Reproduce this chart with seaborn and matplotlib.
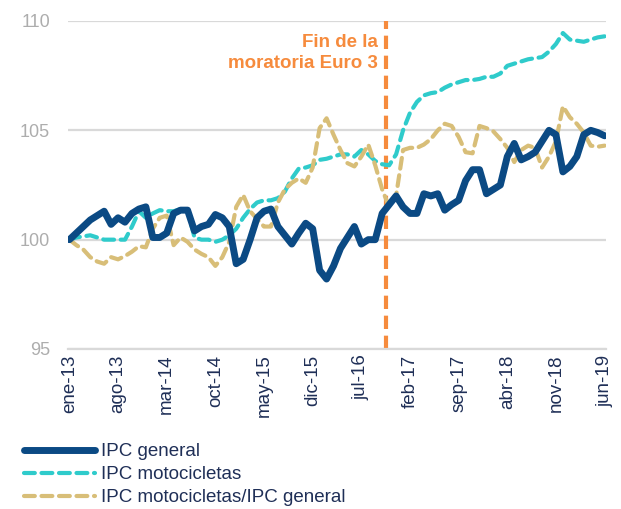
import numpy as np
import pandas as pd
import matplotlib
matplotlib.use("Agg")
import matplotlib.pyplot as plt
import seaborn as sns

months = ["ene", "feb", "mar", "abr", "may", "jun", "jul", "ago", "sep", "oct", "nov", "dic"]
dates = [f"{months[m]}-{str(y)[2:]}" for y in range(2013, 2020) for m in range(12)][:78]

ipc_general = [
    100.0, 100.3, 100.6, 100.9, 101.1, 101.3, 100.7, 101.0, 100.8, 101.2,
    101.4, 101.5, 100.1, 100.1, 100.3, 101.2, 101.35, 101.35, 100.4, 100.6,
    100.7, 101.15, 101.0, 100.6, 98.9, 99.1, 100.0, 101.0, 101.3, 101.4,
    100.6, 100.2, 99.8, 100.3, 100.75, 100.5, 98.6, 98.2, 98.8, 99.6,
    100.1, 100.6, 99.8, 100.0, 100.0, 101.2, 101.6, 102.0, 101.5, 101.2,
    101.2, 102.1, 102.0, 102.1, 101.35, 101.6, 101.8, 102.7, 103.2, 103.2,
    102.1, 102.3, 102.5, 103.8, 104.4, 103.65, 103.8, 104.0, 104.5, 105.0,
    104.8, 103.1, 103.35, 103.8, 104.8, 105.0, 104.9, 104.75,
]

ipc_motos = [
    100.0, 100.1, 100.15, 100.2, 100.1, 100.0, 100.0, 100.0, 100.0, 100.6,
    101.3, 101.0, 101.2, 101.35, 101.3, 101.3, 101.4, 101.35, 100.1, 100.0,
    100.0, 99.9, 100.0, 100.2, 100.5, 101.0, 101.4, 101.7, 101.8, 101.8,
    101.9, 102.2, 102.8, 103.25, 103.3, 103.4, 103.65, 103.7, 103.8, 103.9,
    103.9, 103.8, 104.1, 103.9, 103.6, 103.45, 103.4, 103.9, 105.0, 105.8,
    106.3, 106.6, 106.7, 106.75, 106.95, 107.1, 107.2, 107.3, 107.3, 107.35,
    107.45, 107.45, 107.6, 107.95, 108.05, 108.15, 108.25, 108.3, 108.35, 108.6,
    108.95, 109.45, 109.15, 109.1, 109.05, 109.15, 109.25, 109.3,
]

ipc_ratio = [
    100.0, 99.75, 99.55, 99.2, 99.0, 98.9, 99.2, 99.1, 99.25, 99.45,
    99.7, 99.65, 100.5, 101.0, 101.1, 99.75, 100.1, 99.9, 99.55, 99.35,
    99.2, 98.8, 99.2, 99.9, 101.5, 102.05, 101.3, 100.95, 100.6, 100.6,
    101.7, 102.3, 102.6, 102.8, 102.6, 103.3, 105.1, 105.55, 104.8, 104.1,
    103.5, 103.35, 103.8, 104.35, 103.4, 102.3, 101.5, 102.0, 104.1, 104.2,
    104.2, 104.35, 104.6, 105.0, 105.3, 105.2, 104.7, 104.0, 103.95, 105.2,
    105.1, 104.95, 104.6, 104.2, 103.55, 104.1, 104.3, 104.2, 103.3, 103.8,
    104.5, 106.1, 105.6, 105.3, 104.9, 104.3, 104.25, 104.3,
]

series_names = ["IPC general", "IPC motocicletas", "IPC motocicletas/IPC general"]
tick_every = 7
event_pos = 45.5
event_label = "Fin de la\nmoratoria Euro 3"
y_ticks = [95, 100, 105, 110]

navy = "#0B4A84"
teal = "#2FCBCB"
tan = "#D8BE78"
orange = "#F68B3D"
grid_c = "#D9D9D9"
text_dark = "#1F2F57"

sns.set_style("white")
plt.rcParams["font.family"] = ["Liberation Sans", "DejaVu Sans"]

df = pd.DataFrame({"t": np.arange(len(dates)),
                   series_names[0]: ipc_general,
                   series_names[1]: ipc_motos,
                   series_names[2]: ipc_ratio})

fig = plt.figure(figsize=(6.21, 5.09), dpi=100)
ax = fig.add_axes([68 / 621, 1 - 349 / 509, (606 - 68) / 621, (349 - 21) / 509])

for v in y_ticks:
    ax.axhline(v, color=grid_c, lw=1.6, zorder=0)

ax.axvline(event_pos, color=orange, lw=3, dashes=(3.2, 1.6), zorder=1)

sns.lineplot(data=df, x="t", y=series_names[1], ax=ax, color=teal, lw=3, label=series_names[1])
sns.lineplot(data=df, x="t", y=series_names[2], ax=ax, color=tan, lw=3, label=series_names[2])
sns.lineplot(data=df, x="t", y=series_names[0], ax=ax, color=navy, lw=5, label=series_names[0])

line_map = {}
for ln in ax.get_lines():
    lab = ln.get_label()
    if lab in series_names:
        line_map[lab] = ln
for name in series_names[1:]:
    line_map[name].set_dashes((2.6, 1.6))
    line_map[name].set_dash_capstyle("round")
line_map[series_names[0]].set_solid_capstyle("round")
line_map[series_names[0]].set_solid_joinstyle("round")
line_map[series_names[0]].set_zorder(4)

ax.set_xlim(-0.2, len(dates) - 1 + 0.2)
ax.set_ylim(95, 110)
ax.set_yticks(y_ticks)
ax.set_yticklabels([str(v) for v in y_ticks], color="#ADADAD", fontsize=13)
ax.tick_params(axis="y", length=0, pad=13)

xt = list(range(0, len(dates), tick_every))
ax.set_xticks(xt)
ax.set_xticklabels([dates[i] for i in xt], rotation=90, color=text_dark, fontsize=13.5)
ax.tick_params(axis="x", which="major", length=0, pad=4)
ax.set_xticks(np.linspace(0, len(dates) - 1, 27), minor=True)
ax.tick_params(axis="x", which="minor", length=4, width=1.2, color=grid_c, direction="out")

for s in ["left", "right", "top"]:
    ax.spines[s].set_visible(False)
ax.spines["bottom"].set_color(grid_c)
ax.spines["bottom"].set_linewidth(1.6)
ax.set_xlabel("")
ax.set_ylabel("")

ax.text(event_pos - 1.1, 108.55, event_label, ha="right", va="center", color=orange,
        fontsize=13.5, fontweight="bold", linespacing=1.3)

ax.get_legend().remove()
handles = [line_map[n] for n in series_names]
leg = fig.legend(handles, series_names, loc="upper left", bbox_to_anchor=(24 / 621, 1 - 443 / 509),
                 frameon=False, fontsize=13.5, handlelength=3.8, handletextpad=0.3,
                 labelspacing=0.32, borderpad=0, borderaxespad=0)
for t in leg.get_texts():
    t.set_color(text_dark)

fig.savefig("out.png", dpi=100)
